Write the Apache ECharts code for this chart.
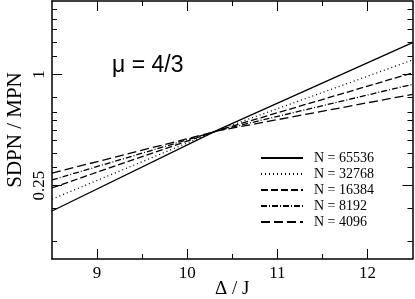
<!DOCTYPE html>
<html><head><meta charset="utf-8">
<script src="https://cdn.jsdelivr.net/npm/echarts@6/dist/echarts.min.js"></script>
<style>html,body{margin:0;padding:0;background:#fff}#c{width:415px;height:299px}</style>
</head><body><div id="c"></div>
<script>
// Data (y is log scale)
const xValues = [8.5, 10.36, 12.5];
const seriesNames = ['N = 65536', 'N = 32768', 'N = 16384', 'N = 8192', 'N = 4096'];
const n65536 = [0.182, 0.505, 1.486];
const n32768 = [0.211, 0.503, 1.197];
const n16384 = [0.243, 0.501, 1.02];
const n8192  = [0.268, 0.499, 0.884];
const n4096  = [0.292, 0.497, 0.78];
const xTickLabels = [9, 10, 11, 12];
const xMinorTicks = [9.5, 10.5, 11.5];
const yTickLabels = [0.25, 1];
const yMinorTicks = [0.125, 0.1875, 0.3125, 0.375, 0.4375, 0.5, 0.5625, 0.625, 0.75, 1.25, 1.5, 1.75, 2, 2.25];

const allValues = [n65536, n32768, n16384, n8192, n4096];
const dashes = ['solid', [1, 3], [7, 3], [6, 2, 1, 2], [9, 4]];
const serif = 'Liberation Serif';

const chart = echarts.init(document.getElementById('c'), null, {renderer: 'canvas'});
const lineAxis = {lineStyle: {color: '#000', width: 1.5}};
const hiddenLabel = {show: false};

const option = {
  animation: false,
  backgroundColor: '#fff',
  grid: {left: 52, right: 2.5, top: 1, bottom: 40, containLabel: false, outerBoundsMode: 'none'},
  title: {
    text: 'μ = 4/3', left: 112, top: 54, padding: 0,
    textStyle: {fontFamily: 'Liberation Sans', fontSize: 23, fontWeight: 'normal', color: '#000'}
  },
  legend: {
    orient: 'vertical', left: 260, top: 151, padding: 0,
    itemWidth: 42, itemHeight: 12, itemGap: 2,
    data: seriesNames,
    itemStyle: {opacity: 0, color: 'transparent', borderWidth: 0},
    textStyle: {fontFamily: serif, fontSize: 14, lineHeight: 12, color: '#000', padding: [0, 0, 0, 6]}
  },
  xAxis: [
    {type: 'value', min: 8.5, max: 12.5, position: 'bottom',
     name: 'Δ / J', nameLocation: 'middle', nameGap: 21, nameMoveOverlap: false,
     nameTextStyle: {fontFamily: serif, fontSize: 19, color: '#000', verticalAlign: 'top'},
     axisLine: lineAxis, splitLine: {show: false},
     axisTick: {inside: true, length: 10, customValues: xTickLabels, lineStyle: {color: '#000', width: 1}},
     axisLabel: {customValues: xTickLabels, fontFamily: serif, fontSize: 17, color: '#000', margin: 6}},
    {type: 'value', min: 8.5, max: 12.5, position: 'bottom', gridIndex: 0,
     axisLine: {show: false}, splitLine: {show: false},
     axisTick: {inside: true, length: 5, customValues: xMinorTicks, lineStyle: {color: '#000', width: 1}},
     axisLabel: hiddenLabel},
    {type: 'value', min: 8.5, max: 12.5, position: 'top',
     axisLine: lineAxis, splitLine: {show: false},
     axisTick: {inside: true, length: 10, customValues: xTickLabels, lineStyle: {color: '#000', width: 1}},
     axisLabel: hiddenLabel},
    {type: 'value', min: 8.5, max: 12.5, position: 'top',
     axisLine: {show: false}, splitLine: {show: false},
     axisTick: {inside: true, length: 5, customValues: xMinorTicks, lineStyle: {color: '#000', width: 1}},
     axisLabel: hiddenLabel}
  ],
  yAxis: [
    {type: 'log', logBase: 10, min: 0.1, max: 2.5, position: 'left',
     name: 'SDPN / MPN', nameLocation: 'middle', nameGap: 26, nameRotate: 90, nameMoveOverlap: false,
     nameTextStyle: {fontFamily: serif, fontSize: 21, color: '#000'},
     axisLine: lineAxis, splitLine: {show: false},
     axisTick: {inside: true, length: 10, customValues: yTickLabels, lineStyle: {color: '#000', width: 1}},
     axisLabel: {customValues: yTickLabels, rotate: 90, fontFamily: serif, fontSize: 17, color: '#000', margin: 4,
       formatter: v => String(Math.round(v * 100) / 100)}},
    {type: 'log', logBase: 10, min: 0.1, max: 2.5, position: 'left',
     axisLine: {show: false}, splitLine: {show: false},
     axisTick: {inside: true, length: 5, customValues: yMinorTicks, lineStyle: {color: '#000', width: 1}},
     axisLabel: hiddenLabel},
    {type: 'log', logBase: 10, min: 0.1, max: 2.5, position: 'right',
     axisLine: lineAxis, splitLine: {show: false},
     axisTick: {inside: true, length: 10, customValues: yTickLabels, lineStyle: {color: '#000', width: 1}},
     axisLabel: hiddenLabel},
    {type: 'log', logBase: 10, min: 0.1, max: 2.5, position: 'right',
     axisLine: {show: false}, splitLine: {show: false},
     axisTick: {inside: true, length: 5, customValues: yMinorTicks, lineStyle: {color: '#000', width: 1}},
     axisLabel: hiddenLabel}
  ],
  series: seriesNames.map((name, i) => ({
    name: name, type: 'line', xAxisIndex: 0, yAxisIndex: 0,
    symbol: 'none', showSymbol: false, silent: true,
    data: xValues.map((x, j) => [x, allValues[i][j]]),
    lineStyle: {color: '#000', width: 1.3, type: dashes[i]},
    itemStyle: {color: '#000'}
  }))
};
chart.setOption(option);
</script></body></html>
